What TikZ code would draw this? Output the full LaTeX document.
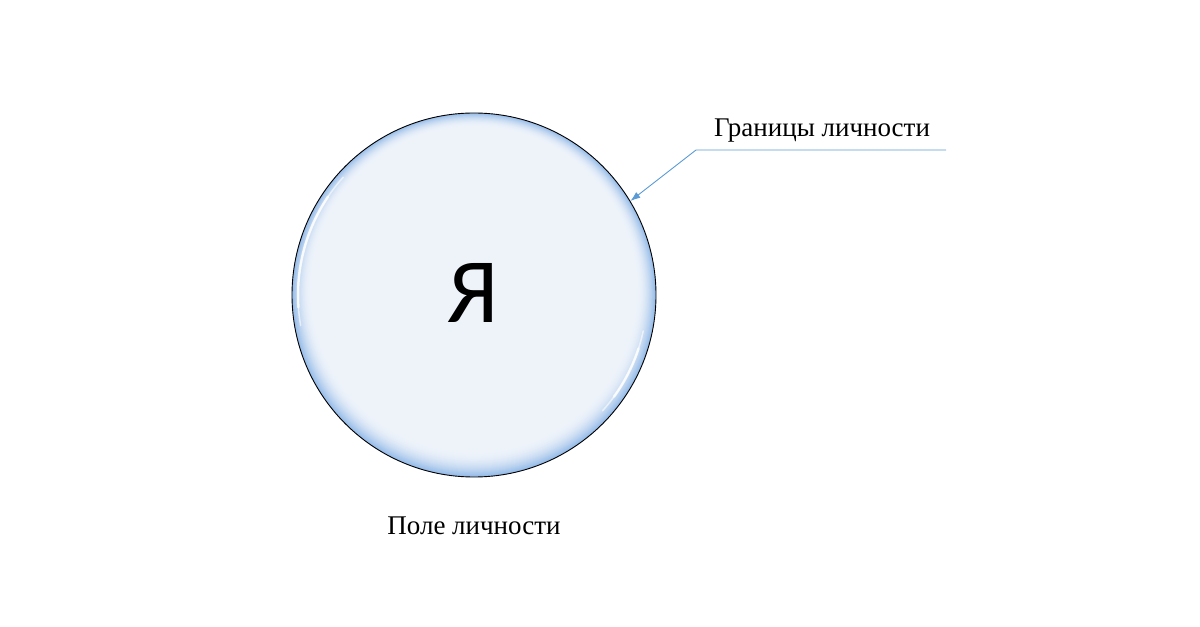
\documentclass[tikz,border=0pt]{standalone}
\usepackage{fontspec}
\setmainfont{Liberation Serif}
\newfontfamily\calib{Carlito}
\usetikzlibrary{arrows.meta}
\definecolor{inC}{RGB}{238,243,250}
\definecolor{edgeC}{RGB}{145,185,232}
\definecolor{lineC}{RGB}{91,155,213}
\tikzset{
  lbl/.style={font=\fontsize{27bp}{32bp}\selectfont, inner sep=0},
  conn/.style={draw=lineC, line width=0.9bp, -{Latex[length=10bp,width=7bp]}},
  hilite/.style={draw=white, line cap=round}
}
\begin{document}
\begin{tikzpicture}[x=1bp,y=-1bp]
\useasboundingbox (0,0) rectangle (1200,627);
% body of the circle with a soft bluish rim
\begin{scope}
  \clip (474,295) circle[radius=182];
  \fill[inC] (474,295) circle[radius=182];
  \foreach \i in {0,...,26} {
    \pgfmathsetmacro\p{100*(1-\i/26)^2}
    \pgfmathsetmacro\r{181.5-\i*0.75}
    \pgfmathsetmacro\cy{295-\i*0.22}
    \draw[color=edgeC!\p!inC, line width=1.6bp] (474,\cy) circle[radius=\r];
  }
  \draw[hilite, line width=2.5bp, opacity=0.8] (474,295) ++(176:176) arc[start angle=176, end angle=214, radius=176];
  \draw[hilite, line width=1.5bp, opacity=0.6] (474,295) ++(170:176) arc[start angle=170, end angle=222, radius=176];
  \draw[hilite, line width=2.5bp, opacity=0.8] (474,295) ++(18:173) arc[start angle=18, end angle=36, radius=173];
  \draw[hilite, line width=1.5bp, opacity=0.6] (474,295) ++(12:173) arc[start angle=12, end angle=42, radius=173];
\end{scope}
\node[circle, minimum size=364bp, inner sep=0, draw=black, line width=0.9bp] (ya) at (474,295) {};
\node[font=\calib\fontsize{92bp}{100bp}\selectfont, inner sep=0] (yatext) at (473,292.5) {Я};
\node[lbl] (granitsy) at (822,130.5) {Границы личности};
\node[lbl] (pole) at (474,526) {Поле личности};
\coordinate (lineEnd) at (946,150);
\coordinate (bend) at (696,150);
\draw[conn] (lineEnd) -- (bend) -- (ya.31.5);
\end{tikzpicture}
\end{document}
